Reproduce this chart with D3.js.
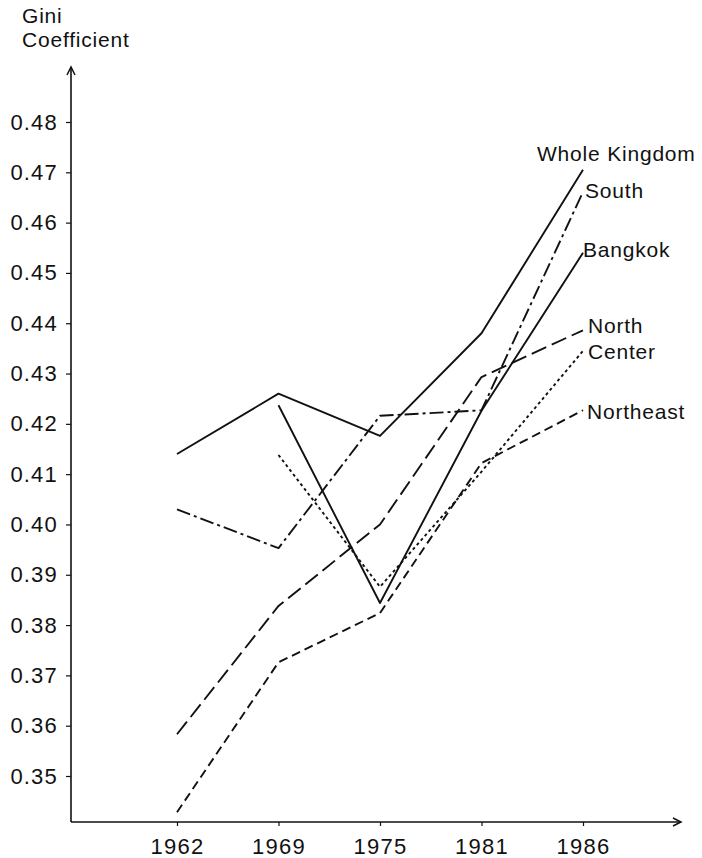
<!DOCTYPE html>
<html>
<head>
<meta charset="utf-8">
<script src="https://cdn.jsdelivr.net/npm/d3@7"></script>
<style>
  html, body { margin: 0; padding: 0; background: #fff; }
  svg { display: block; }
  text { font-family: "Liberation Sans", Arial, Helvetica, sans-serif; fill: #111; }
</style>
</head>
<body>
<svg id="chart" width="702" height="858"></svg>
<script>
// ---- data ----
const years = ["1962", "1969", "1975", "1981", "1986"];
const yTicks = [0.35, 0.36, 0.37, 0.38, 0.39, 0.40, 0.41, 0.42, 0.43, 0.44, 0.45, 0.46, 0.47, 0.48];
const seriesNames = ["Whole Kingdom", "South", "Bangkok", "North", "Center", "Northeast"];
const wholeKingdom = [0.4140, 0.4260, 0.4176, 0.4380, 0.4705];
const south        = [0.4030, 0.3953, 0.4216, 0.4227, 0.4661];
const bangkok      = [null,   0.4237, 0.3844, 0.4226, 0.4540];
const north        = [0.3583, 0.3838, 0.4000, 0.4293, 0.4386];
const center       = [null,   0.4138, 0.3876, 0.4105, 0.4345];
const northeast    = [0.3428, 0.3726, 0.3824, 0.4122, 0.4227];

// ---- styling / layout ----
const values = [wholeKingdom, south, bangkok, north, center, northeast];
const dashes = [null, "14,4,3,4", null, "16,6", "3,3", "9,5"];
const labelOffsets = [[-46, -9], [2, 6], [0, 4], [5, 3], [5, 8], [4, 9]];

const svg = d3.select("#chart");
const x = d3.scalePoint().domain(years).range([177, 583]);
const y = d3.scaleLinear().domain([0.35, 0.48]).range([776, 122]);

const axisX0 = 71, axisY0 = 822;
const tickFont = 22;
const labelFont = 21;

// y axis
const gy = svg.append("g").attr("transform", `translate(${axisX0},0)`)
  .call(d3.axisLeft(y).tickValues(yTicks).tickFormat(d3.format(".2f")).tickSize(5).tickPadding(8));
gy.select(".domain").remove();
gy.selectAll(".tick line").attr("stroke", "#111").attr("stroke-width", 1.2);
gy.selectAll(".tick text").attr("font-size", tickFont).attr("font-family", "Liberation Sans, Arial, sans-serif").attr("fill", "#111").attr("letter-spacing", "1.2px");

// x axis
const gx = svg.append("g").attr("transform", `translate(0,${axisY0})`)
  .call(d3.axisBottom(x).tickSize(4).tickPadding(12));
gx.select(".domain").remove();
gx.selectAll(".tick line").attr("stroke", "#111").attr("stroke-width", 1.2);
gx.selectAll(".tick text").attr("font-size", tickFont).attr("font-family", "Liberation Sans, Arial, sans-serif").attr("fill", "#111").attr("letter-spacing", "1.3px");

// axis lines with arrows
svg.append("line").attr("x1", axisX0).attr("x2", axisX0).attr("y1", axisY0).attr("y2", 67)
  .attr("stroke", "#111").attr("stroke-width", 1.6);
svg.append("path").attr("d", `M${axisX0 - 4},${75} L${axisX0},${67} L${axisX0 + 4},${75}`)
  .attr("fill", "none").attr("stroke", "#111").attr("stroke-width", 1.5);
svg.append("line").attr("x1", axisX0).attr("x2", 681).attr("y1", axisY0).attr("y2", axisY0)
  .attr("stroke", "#111").attr("stroke-width", 1.6);
svg.append("path").attr("d", `M${673},${axisY0 - 4} L${681},${axisY0} L${673},${axisY0 + 4}`)
  .attr("fill", "none").attr("stroke", "#111").attr("stroke-width", 1.5);

// axis title
const title = svg.append("text").attr("x", 22).attr("font-size", labelFont).attr("letter-spacing", "0.8px");
title.append("tspan").attr("x", 22).attr("y", 23).text("Gini");
title.append("tspan").attr("x", 22).attr("y", 47).text("Coefficient");

// lines
const line = d3.line()
  .defined(d => d.v !== null)
  .x(d => x(d.year))
  .y(d => y(d.v));

seriesNames.forEach((name, i) => {
  const pts = years.map((yr, j) => ({ year: yr, v: values[i][j] }));
  const p = svg.append("path")
    .datum(pts)
    .attr("d", line)
    .attr("fill", "none")
    .attr("stroke", "#111")
    .attr("stroke-width", 1.9)
    .attr("stroke-linejoin", "round");
  if (dashes[i]) p.attr("stroke-dasharray", dashes[i]);

  const last = pts[pts.length - 1];
  svg.append("text")
    .attr("x", x(last.year) + labelOffsets[i][0])
    .attr("y", y(last.v) + labelOffsets[i][1])
    .attr("font-size", labelFont)
    .attr("letter-spacing", "0.8px")
    .text(name);
});
</script>
</body>
</html>
